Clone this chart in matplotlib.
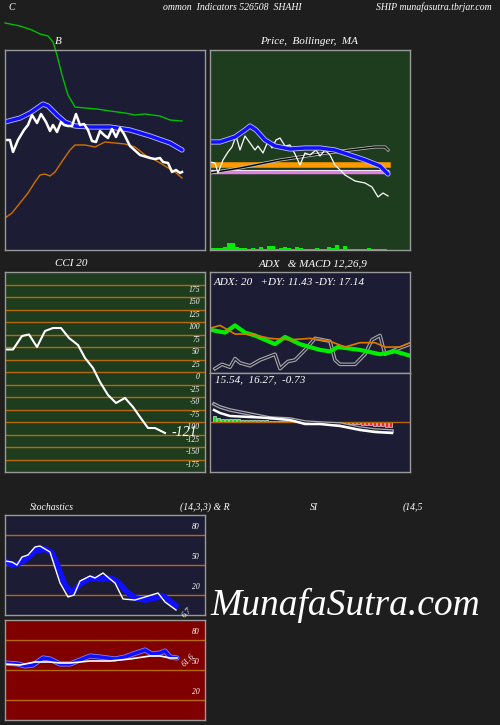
import matplotlib
matplotlib.use("Agg")
import matplotlib.pyplot as plt
import numpy as np

W, H = 500, 725
BG = "#1e1e1e"
NAVY = "#1c1c34"
DKGREEN = "#1e3c1e"
DKRED = "#800000"
EDGE = "#9a9a9a"
GRID = "#b8680c"
FONT = "Liberation Serif"

# -- Bollinger panel (x px, level) ---------------------------------------------
bb_up_x = [5, 20, 32, 40, 48, 53, 57, 62, 68, 75, 85, 97, 110, 125, 135, 145, 160, 170, 182]
bb_up = [227, 224, 220, 216, 214, 208, 195, 175, 155, 143, 142, 141, 139, 137, 135, 136, 134, 130, 129]
bb_mid_x = [5, 20, 30, 43, 48, 57, 65, 75, 90, 110, 130, 150, 170, 182]
bb_mid = [128, 132, 137, 146, 144, 135, 128, 124, 123, 123, 120, 114, 107, 100]
bb_px_x = [5, 10, 13, 18, 24, 28, 32, 37, 41, 46, 50, 53, 57, 61, 64, 68, 72, 76, 80, 84, 88,
           92, 96, 100, 104, 108, 112, 116, 120, 124, 130, 140, 150, 155, 160, 163, 168, 172,
           176, 180, 182]
bb_px = [110, 110, 98, 110, 120, 125, 135, 127, 136, 128, 119, 125, 118, 128, 125, 124, 124,
         136, 125, 126, 120, 109, 108, 119, 115, 112, 121, 113, 122, 116, 104, 95, 92, 91, 92,
         88, 87, 78, 80, 77, 78]
bb_lo_x = [5, 12, 20, 28, 35, 40, 45, 50, 55, 63, 70, 75, 85, 95, 105, 115, 125, 135, 145,
           155, 165, 175, 182]
bb_lo = [32, 37, 47, 57, 68, 75, 76, 74, 78, 90, 100, 105, 105, 103, 108, 107, 106, 103, 95,
         90, 84, 78, 72]

# -- Price / MA panel -----------------------------------------------------------
ma_x = [210, 220, 235, 245, 250, 256, 265, 275, 290, 305, 320, 335, 350, 365, 380, 388]
ma = [108, 108, 113, 120, 124, 120, 110, 104, 101, 102, 102, 100, 95, 90, 84, 76]
pr_x = [210, 215, 218, 223, 228, 232, 236, 240, 245, 250, 255, 258, 263, 268, 272, 276, 280,
        285, 290, 295, 300, 305, 310, 316, 320, 325, 330, 335, 345, 355, 365, 372, 378, 383, 388]
pr = [88, 87, 77, 90, 98, 103, 114, 100, 114, 107, 100, 104, 97, 109, 102, 110, 112, 104, 105,
      96, 85, 97, 95, 100, 94, 100, 95, 85, 75, 69, 67, 63, 53, 57, 54]
lma_x = [210, 240, 280, 320, 350, 375, 385, 388]
lma = [77, 82, 90, 96, 100, 103, 103, 100]
vol = [2, 2, 2, 3, 7, 7, 3, 2, 2, 1, 2, 1, 3, 1, 4, 4, 1, 2, 3, 2, 1, 3, 2, 1, 1, 1, 2, 1, 1,
       3, 2, 5, 1, 4, 1, 1, 1, 1, 1, 2, 1, 1, 1, 1]

# -- CCI ------------------------------------------------------------------------
cci_x = [5, 13, 22, 29, 37, 45, 53, 61, 69, 78, 85, 93, 100, 108, 116, 125, 133, 140, 148, 155, 165]
cci = [56, 56, 83, 86, 61, 93, 99, 99, 79, 65, 39, 19, -9, -35, -51, -41, -59, -79, -101, -101, -111]

# -- ADX ------------------------------------------------------------------------
adx_x = [210, 225, 235, 245, 255, 275, 285, 300, 320, 330, 338, 360, 380, 388, 395, 410]
adx = [30, 28, 33, 28, 26, 20, 25, 20, 16, 15, 18, 16, 13, 14, 15, 12]
pdi_x = [210, 220, 235, 250, 270, 290, 310, 330, 345, 360, 375, 385, 400, 410]
pdi = [31, 33, 27, 27, 24, 23, 24, 22, 18, 21, 21, 18, 18, 21]
mdi_x = [215, 222, 230, 235, 240, 250, 260, 275, 280, 288, 295, 305, 315, 330, 335, 340, 350,
         355, 365, 372, 380, 385, 395, 410]
mdi = [3, 6, 4, 10, 7, 5, 9, 13, 3, 8, 9, 16, 24, 22, 9, 6, 6, 6, 13, 23, 26, 13, 16, 20]

# -- MACD -----------------------------------------------------------------------
macd_x = [214, 220, 230, 250, 270, 290, 305, 320, 340, 360, 375, 392]
macd = [12, 9, 6, 5, 4, 2, -2, -2, -4, -8, -10, -11]
sig = [18, 15, 12, 8, 4, 3, 0, -1, -2, -6, -8, -9]
hist = [6, 4, 3, 3, 3, 3, 3, 2, 2, 2, 2, 2, 2, 2, 1, 1, 1, 1, 1, 1, 1, 0, 0, 0, 0, 0, 0, 0,
        0, -1, -1, -1, -1, -2, -2, -2, -2, -3, -3, -3, -4, -4, -4, -5, -5]

# -- Stochastics / RSI ----------------------------------------------------------
sd_x = [5, 12, 17, 25, 35, 45, 52, 58, 65, 72, 80, 90, 100, 110, 118, 127, 135, 145, 155, 163, 170, 176]
sd = [54, 50, 51, 55, 64, 66, 62, 48, 30, 22, 31, 37, 36, 37, 33, 23, 17, 15, 17, 19, 14, 9]
sk_x = [5, 12, 17, 22, 28, 35, 40, 50, 60, 68, 74, 80, 90, 95, 103, 110, 115, 123, 135, 145, 158, 165, 176]
sk = [54, 53, 50, 58, 60, 68, 69, 63, 32, 18, 20, 34, 39, 37, 42, 36, 32, 16, 15, 18, 22, 13, 5]
rb_x = [5, 18, 25, 33, 43, 50, 60, 70, 80, 90, 100, 115, 125, 133, 145, 152, 160, 165, 170, 177]
rb = [57, 56, 54, 55, 62, 61, 56, 56, 60, 64, 63, 61, 63, 66, 70, 66, 67, 69, 63, 62]
rw_x = [5, 20, 35, 50, 60, 70, 90, 110, 130, 150, 160, 170, 177]
rw = [56, 55, 58, 58, 57, 57, 59, 59, 61, 64, 64, 62, 62]

fig = plt.figure(figsize=(W / 100, H / 100), dpi=100, facecolor=BG)


def panel(x0, y0, x1, y1, color):
    ax = fig.add_axes([x0 / W, 1 - y1 / H, (x1 - x0) / W, (y1 - y0) / H])
    ax.set_facecolor(color)
    ax.set_xticks([])
    ax.set_yticks([])
    for s in ax.spines.values():
        s.set_color(EDGE)
        s.set_linewidth(1)
    ax.set_xlim(x0, x1)
    return ax


def fat_line(ax, x, y, color, lw=3, edge="white", clip=True):
    ax.plot(x, y, color=edge, lw=lw + 1.2, solid_capstyle="round", clip_on=clip)
    ax.plot(x, y, color=color, lw=lw, solid_capstyle="round", clip_on=clip)


def ftext(x, y, s, size=7, **kw):
    fig.text(x / W, 1 - y / H, s, color="white", fontsize=size, family=FONT,
             style="italic", va="center", **kw)


# titles
ftext(8, 7, "C")
ftext(163, 7, "ommon  Indicators 526508  SHAHI")
ftext(376, 7, "SHIP munafasutra.tbrjar.com")
ftext(55, 42, "B", size=8)
ftext(260, 42, "Price,  Bollinger,  MA", size=8)
ftext(55, 264, "CCI 20", size=8)
ftext(259, 264, "ADX   & MACD 12,26,9", size=8)
ftext(30, 507, "Stochastics")
ftext(180, 507, "(14,3,3) & R")
ftext(310, 507, "SI")
ftext(403, 507, "(14,5")
ftext(345, 605, "MunafaSutra.com", size=27, ha="center")

# Bollinger
ax = panel(5, 50, 205, 250, NAVY)
ax.set_ylim(0, 200)
ax.plot(bb_up_x, bb_up, color="#00c000", lw=1, clip_on=False)
fat_line(ax, bb_mid_x, bb_mid, "#1010ff", lw=2.5, edge="#c0c0ff")
ax.plot(bb_lo_x, bb_lo, color="#d07000", lw=1)
ax.plot(bb_px_x, bb_px, color="white", lw=1.8)

# Price / MA
ax = panel(210, 50, 410, 250, DKGREEN)
ax.set_ylim(0, 200)
ax.axhline(85, xmin=0, xmax=0.89, color="#ff9900", lw=4)
ax.axhline(80, xmin=0, xmax=0.89, color="white", lw=0.8)
ax.axhline(78, xmin=0, xmax=0.89, color="#e080e0", lw=2.5)
ax.plot(lma_x, lma, color="#bbbbbb", lw=2.2)
ax.plot(lma_x, lma, color="black", lw=1)
ax.plot(pr_x, pr, color="white", lw=0.9)
fat_line(ax, ma_x, ma, "#1010ff", lw=2.5, edge="#c0c0ff")
vol_x = 211 + 4 * np.arange(len(vol))
ax.bar(vol_x, vol, width=4, bottom=0, color="#00ee00", align="edge")

# CCI
ax = panel(5, 272, 205, 472, DKGREEN)
ax.set_ylim(-189, 211)
for g in np.arange(185, -190, -25):
    ax.axhline(g, color=GRID, lw=1)
for v in range(175, -200, -25):
    ax.text(200, v, str(v), color="white", fontsize=5.5, family=FONT, style="italic",
            ha="right", va="center")
ax.plot(cci_x, cci, color="white", lw=1.5)
ax.text(171, -110, "-121", color="white", fontsize=10, family=FONT, style="italic", va="center")

# ADX
ax = panel(210, 272, 410, 373, NAVY)
ax.set_ylim(0, 70)
ax.text(214, 63, "ADX: 20   +DY: 11.43 -DY: 17.14", color="white", fontsize=8,
        family=FONT, style="italic", va="center")
ax.plot(mdi_x, mdi, color="#aaaaaa", lw=2.6)
ax.plot(mdi_x, mdi, color="#1c1c34", lw=1)
ax.plot(adx_x, adx, color="#00ee00", lw=3)
ax.plot(pdi_x, pdi, color="#e07800", lw=1.2)

# MACD
ax = panel(210, 373, 410, 472, NAVY)
ax.set_ylim(-50, 49)
ax.axhline(0, color=GRID, lw=1)
ax.text(215, 42, "15.54,  16.27,  -0.73", color="white", fontsize=8,
        family=FONT, style="italic", va="center")
hist_x = 214 + 4 * np.arange(len(hist))
hcol = ["#00ee00" if h > 0 else "#ff2020" for h in hist]
ax.bar(hist_x, hist, width=3, color=hcol, edgecolor="white", linewidth=0.4)
ax.plot(macd_x, sig, color="#aaaaaa", lw=2.6)
ax.plot(macd_x, sig, color="#1c1c34", lw=0.8)
ax.plot(macd_x, macd, color="white", lw=1.8)

# Stochastics
ax = panel(5, 515, 205, 615, NAVY)
ax.set_ylim(0, 100)
for g in (80, 50, 20):
    ax.axhline(g, color=GRID, lw=1)
    ax.text(200, g + 8, str(g), color="white", fontsize=5.5, family=FONT, style="italic",
            ha="right", va="center")
fat_line(ax, sd_x, sd, "#1010ff", lw=3, edge="#1010ff")
ax.plot(sk_x, sk, color="white", lw=1)
ax.text(180, 2, "6.7", color="white", fontsize=6, family=FONT, style="italic",
        rotation=45, va="center", clip_on=False)

# RSI
ax = panel(5, 620, 205, 720, DKRED)
ax.set_ylim(0, 100)
for g in (80, 50, 20):
    ax.axhline(g, color=GRID, lw=1)
    ax.text(200, g + 8, str(g), color="white", fontsize=5.5, family=FONT, style="italic",
            ha="right", va="center")
fat_line(ax, rb_x, rb, "#1010ff", lw=2.5, edge="#8080ff")
ax.plot(rw_x, rw, color="white", lw=1.2)
ax.text(180, 60, "61.6", color="white", fontsize=6, family=FONT, style="italic",
        rotation=45, va="center")

fig.savefig("out.png", dpi=100, facecolor=BG)
